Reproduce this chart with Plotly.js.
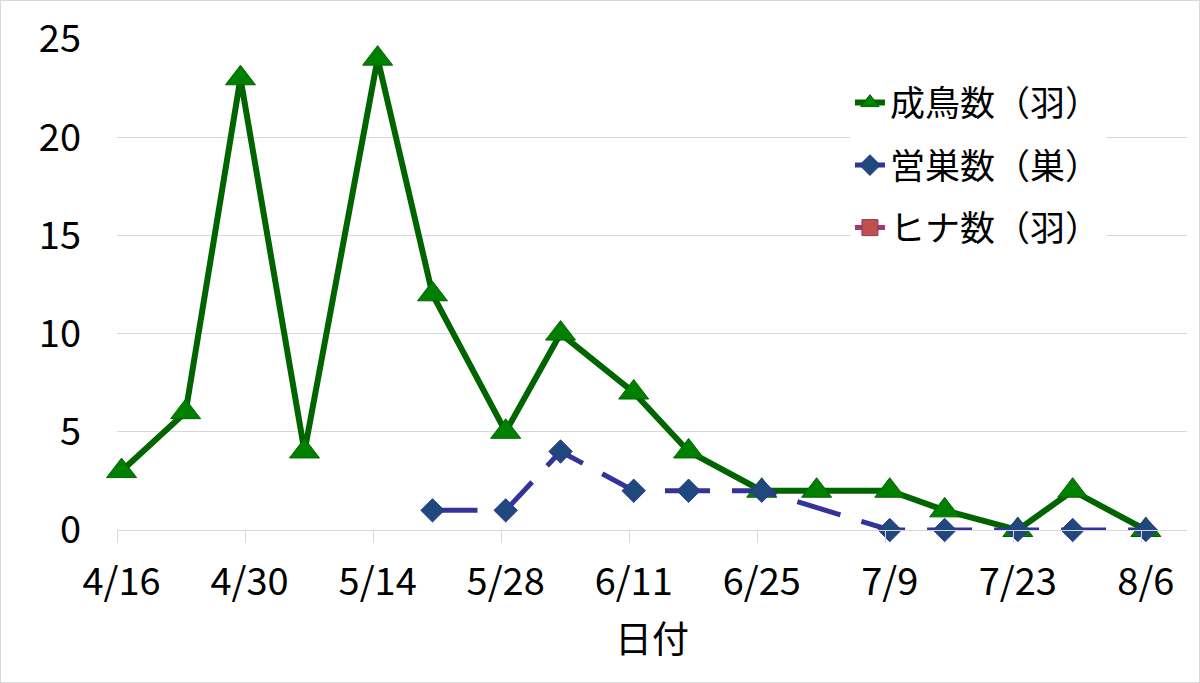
<!DOCTYPE html>
<html>
<head>
<meta charset="utf-8">
<script src="https://cdn.plot.ly/plotly-3.0.1.min.js"></script>
<style>
  html, body { margin: 0; padding: 0; background: #fff; }
  #chart { width: 1200px; height: 683px; box-sizing: border-box; border: 1px solid #d9d9d9; }
  /* the empty chick series is legend-only; keep its legend entry at full strength */
  #chart .legend .traces { opacity: 1 !important; }
</style>
</head>
<body>
<div id="chart"></div>
<script>
// survey dates (year is arbitrary, only month/day are shown)
var dates = ['2014-04-16', '2014-04-23', '2014-04-29', '2014-05-06', '2014-05-14',
  '2014-05-20', '2014-05-28', '2014-06-03', '2014-06-11', '2014-06-17', '2014-06-25',
  '2014-07-01', '2014-07-09', '2014-07-15', '2014-07-23', '2014-07-29', '2014-08-06'];

var adults = [3, 6, 23, 4, 24, 12, 5, 10, 7, 4, 2, 2, 2, 1, 0, 2, 0];
var nests = [null, null, null, null, null, 1, 1, 4, 2, 2, 2, null, 0, 0, 0, 0, 0];
var chicks = [null, null, null, null, null, null, null, null, null, null, null,
  null, null, null, null, null, null];

var names = ['成鳥数（羽）', '営巣数（巣）', 'ヒナ数（羽）'];

var DAY = 86400000;

var trace1 = {
  x: dates,
  y: adults,
  name: names[0],
  legendgroup: 'a',
  mode: 'lines+markers',
  type: 'scatter',
  line: { color: '#006400', width: 6 },
  marker: { symbol: 'triangle-up', size: 26, color: '#008000', line: { color: '#006400', width: 1 } },
  cliponaxis: false
};

var trace2 = {
  x: dates,
  y: nests,
  name: names[1],
  legendgroup: 'b',
  mode: 'lines+markers',
  type: 'scatter',
  connectgaps: true,
  line: { color: '#333399', width: 5, dash: '45px,22px' },
  marker: { symbol: 'diamond', size: 18, color: '#1F497D', line: { color: '#333399', width: 1 } },
  cliponaxis: false
};

var trace3 = {
  x: dates,
  y: chicks,
  name: names[2],
  legendgroup: 'c',
  visible: 'legendonly',
  mode: 'lines+markers',
  type: 'scatter',
  line: { color: '#9E3A6E', width: 5 },
  marker: { symbol: 'square', size: 18, color: '#C0504D', line: { color: '#8C3860', width: 1 } }
};

var data = [trace1, trace2, trace3];

var layout = {
  width: 1198,
  height: 681,
  margin: { l: 116, r: 12, t: 38, b: 152 },
  paper_bgcolor: '#ffffff',
  plot_bgcolor: '#ffffff',
  font: { family: '"Noto Sans CJK JP", "Noto Sans", sans-serif', color: '#000000', size: 38 },
  showlegend: true,
  legend: {
    x: 0.685, y: 0.93, xanchor: 'left', yanchor: 'top',
    bgcolor: '#ffffff',
    font: { size: 35 },
    traceorder: 'grouped',
    tracegroupgap: 14,
    itemclick: false
  },
  xaxis: {
    type: 'date',
    range: ['2014-04-15 12:00', '2014-08-10 12:00'],
    tickmode: 'linear',
    tick0: '2014-04-16',
    dtick: 14 * DAY,
    tickformat: '%-m/%-d',
    ticks: '',
    showgrid: false,
    showline: true,
    linecolor: '#d9d9d9',
    linewidth: 1,
    zeroline: false,
    ticklabelstandoff: 18,
    tickfont: { size: 38 },
    minor: {
      tickmode: 'linear',
      tick0: '2014-04-15 12:00',
      dtick: 14 * DAY,
      ticks: 'outside',
      ticklen: 12,
      tickcolor: '#d9d9d9',
      tickwidth: 1,
      showgrid: false
    },
    title: { text: '日付', font: { size: 37 }, standoff: 22 }
  },
  yaxis: {
    range: [0, 25],
    dtick: 5,
    ticks: '',
    showline: false,
    showgrid: true,
    gridcolor: '#d9d9d9',
    gridwidth: 1,
    zeroline: false,
    ticklabelstandoff: 35,
    tickfont: { size: 38 }
  }
};

Plotly.newPlot('chart', data, layout, { displayModeBar: false, staticPlot: true });
</script>
</body>
</html>
